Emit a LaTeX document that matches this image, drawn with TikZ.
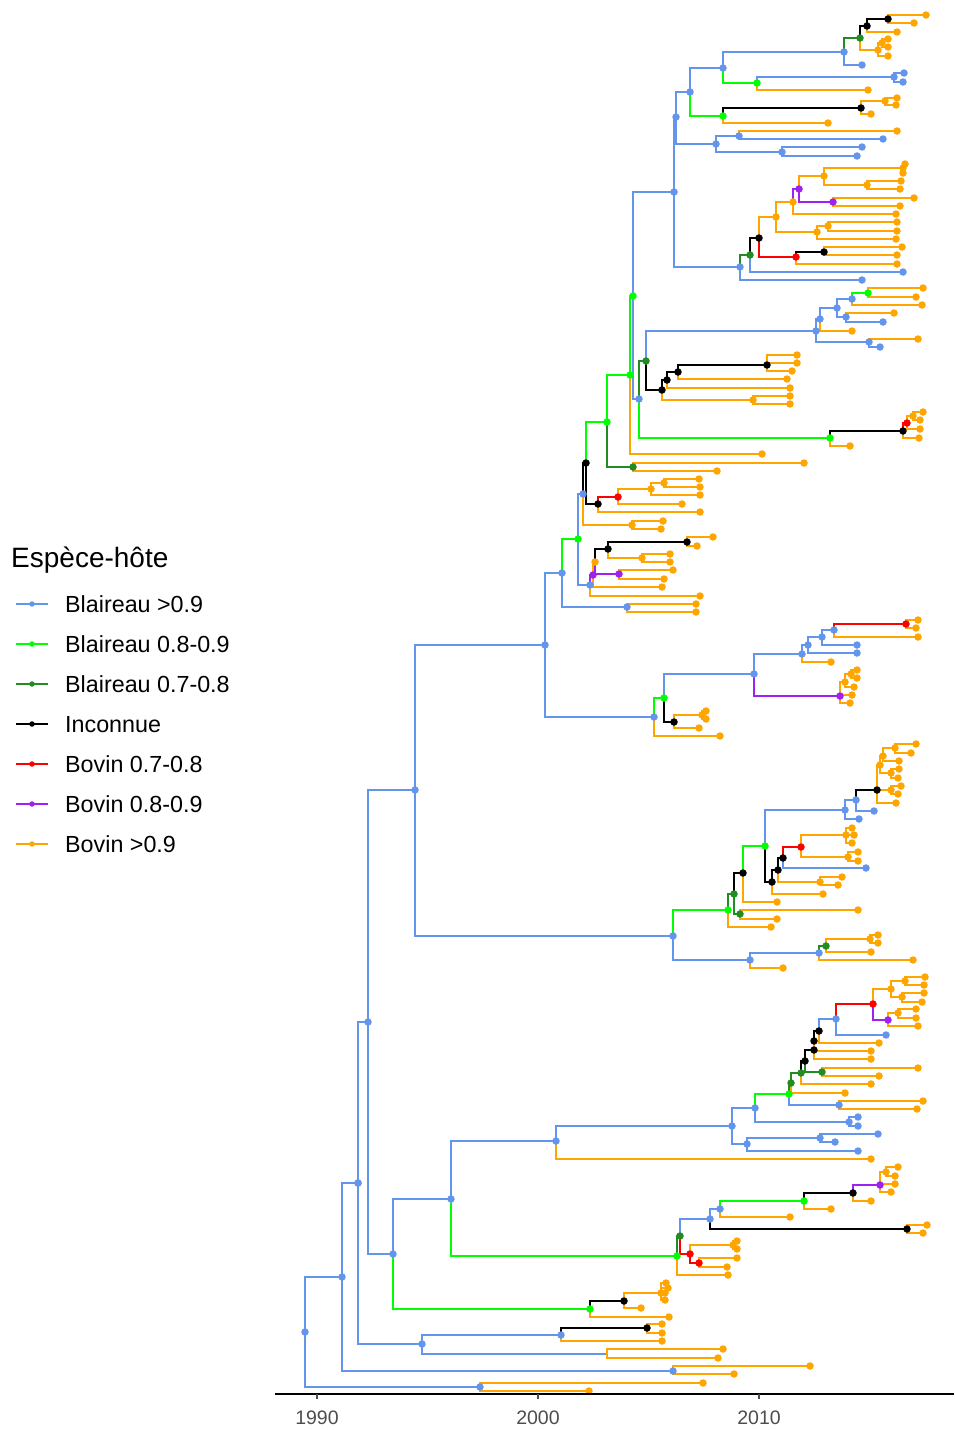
\documentclass[tikz,border=0pt]{standalone}
\usepackage{fontspec}
\setmainfont{Liberation Sans}
\usepackage{tikz}
\definecolor{bla9}{HTML}{6495ED}
\definecolor{bla8}{HTML}{00FF00}
\definecolor{bla7}{HTML}{228B22}
\definecolor{inconnue}{HTML}{000000}
\definecolor{bov7}{HTML}{FF0000}
\definecolor{bov8}{HTML}{A020F0}
\definecolor{bov9}{HTML}{FFA500}
\definecolor{axisgrey}{HTML}{4D4D4D}
\tikzset{
  NodeDot/.style={circle, fill=#1, inner sep=0pt, minimum size=7.5pt},
  BranchLine/.style={draw=#1, line width=2.8pt},
  KeyLine/.style={draw=#1, line width=2pt},
  KeyDot/.style={circle, fill=#1, inner sep=0pt, minimum size=5.5pt},
  KeyText/.style={anchor=base west, inner sep=0pt, font=\fontsize{23.3}{27}\selectfont},
  TickLabel/.style={anchor=base, inner sep=0pt, text=axisgrey, font=\fontsize{19.5}{22}\selectfont},
  TickLine/.style={draw=axisgrey, line width=1.1pt}
}
% branches are drawn at once, the dots are queued and put on top at the end
\newcommand{\DotQueue}{}
\newcounter{tipno}
\newcommand{\Branch}[5]{%
  \coordinate (#3) at (#4,#5);
  \draw[BranchLine=#1] (#2) |- (#3);
  \xdef\DotQueue{\unexpanded\expandafter{\DotQueue}\noexpand\node[NodeDot=#1] (#3d) at (#3) {};}}
\newcommand{\Leaf}[4]{%
  \stepcounter{tipno}%
  \edef\leafname{tip\arabic{tipno}}%
  \Branch{#1}{#2}{\leafname}{#3}{#4}}
\newcommand{\LegendKey}[4]{%
  \coordinate (#1a) at (16,#2);
  \coordinate (#1b) at (48,#2);
  \draw[KeyLine=#3] (#1a) -- (#1b);
  \node[KeyDot=#3] (#1d) at (32,#2) {};
  \node[KeyText] (#1t) at (65,#2+8.7) {#4};}

\begin{document}
\begin{tikzpicture}[x=1pt, y=-1pt]
	\useasboundingbox (0,0) rectangle (954,1430);
	\coordinate (R) at (305,1332);
	\Branch{bla9}{R}{N1}{342}{1277}
	\Branch{bla9}{R}{N1b}{480}{1387}
	\Leaf{bov9}{N1b}{703}{1383}
	\Leaf{bov9}{N1b}{589}{1391}
	\Branch{bla9}{N1}{N2}{358}{1183}
	\Branch{bla9}{N1}{N1c}{673}{1371}
	\Leaf{bov9}{N1c}{810}{1366}
	\Leaf{bov9}{N1c}{734}{1374}
	\Branch{bla9}{N2}{N3}{368}{1022}
	\Branch{bla9}{N2}{N2b}{422}{1344}
	\Branch{bla9}{N2b}{N2c}{561}{1335}
	\Branch{inconnue}{N2c}{K20}{647}{1328}
	\Leaf{bov9}{K20}{662}{1324}
	\Leaf{bov9}{K20}{662}{1333}
	\Leaf{bov9}{N2c}{662}{1341}
	\Branch{bla9}{N2b}{N2d}{607}{1354}
	\Leaf{bov9}{N2d}{723}{1349}
	\Leaf{bov9}{N2d}{718}{1358}
	\Branch{bla9}{N3}{N4}{415}{790}
	\Branch{bla9}{N3}{N3b}{393}{1254}
	\Branch{bla9}{N3b}{N5}{451}{1199}
	\Branch{bla8}{N3b}{G10}{590}{1309}
	\Branch{inconnue}{G10}{K21}{624}{1301}
	\Branch{bov9}{K21}{O20}{661}{1293}
	\Leaf{bov9}{O20}{666}{1283}
	\Leaf{bov9}{O20}{668}{1288}
	\Leaf{bov9}{O20}{665}{1293}
	\Leaf{bov9}{O20}{665}{1300}
	\Leaf{bov9}{K21}{641}{1308}
	\Leaf{bov9}{G10}{669}{1317}

	\Branch{bla9}{N5}{B10}{556}{1141}
	\Branch{bla8}{N5}{G11}{677}{1256}
	\Branch{bla9}{B10}{B11}{732}{1126}
	\Leaf{bov9}{B10}{871}{1159}
	\Branch{bla9}{B11}{B12}{755}{1108}
	\Branch{bla9}{B11}{B13}{747}{1144}
	\Branch{bla9}{B13}{B14}{820}{1138}
	\Leaf{bla9}{B14}{878}{1134}
	\Leaf{bla9}{B14}{835}{1142}
	\Leaf{bla9}{B13}{858}{1151}
	\Branch{bla8}{B12}{G12}{789}{1094}
	\Branch{bla9}{B12}{B15}{849}{1122}
	\Leaf{bla9}{B15}{858}{1117}
	\Leaf{bla9}{B15}{858}{1126}
	\Branch{bla7}{G12}{DG1}{791}{1083}
	\Branch{bla9}{G12}{B16}{839}{1105}
	\Leaf{bov9}{B16}{923}{1101}
	\Leaf{bov9}{B16}{917}{1109}
	\Branch{bla7}{DG1}{DG2}{801}{1073}
	\Leaf{bov9}{DG1}{845}{1093}
	\Branch{inconnue}{DG2}{K1}{805}{1061}
	\Leaf{bov9}{DG2}{871}{1084}
	\Branch{inconnue}{K1}{K2}{814}{1050}
	\Branch{bla7}{K1}{DG3}{822}{1072}
	\Leaf{bov9}{DG3}{918}{1068}
	\Leaf{bov9}{DG3}{879}{1076}
	\Branch{inconnue}{K2}{K3}{814}{1041}
	\Leaf{bov9}{K2}{871}{1059}
	\Branch{inconnue}{K3}{K4}{819}{1031}
	\Leaf{bov9}{K3}{871}{1051}
	\Branch{bla9}{K4}{B17}{836}{1019}
	\Leaf{bov9}{K4}{879}{1043}
	\Branch{bov7}{B17}{R20}{873}{1004}
	\Leaf{bla9}{B17}{886}{1035}
	\Branch{bov9}{R20}{O30}{891}{989}
	\Branch{bov8}{R20}{P30}{888}{1020}
	\Branch{bov9}{O30}{O31}{905}{981}
	\Leaf{bov9}{O31}{925}{977}
	\Leaf{bov9}{O31}{924}{985}
	\Branch{bov9}{O30}{O32}{902}{997}
	\Leaf{bov9}{O32}{924}{993}
	\Leaf{bov9}{O32}{922}{1002}
	\Branch{bov9}{P30}{O33}{898}{1013}
	\Leaf{bov9}{O33}{916}{1009}
	\Leaf{bov9}{O33}{916}{1018}
	\Leaf{bov9}{P30}{918}{1026}

	\Branch{bla7}{G11}{DG10}{680}{1236}
	\Leaf{bov9}{G11}{728}{1275}
	\Branch{bla9}{DG10}{B20}{710}{1219}
	\Branch{bov7}{DG10}{R10}{690}{1254}
	\Branch{bov9}{R10}{O40}{733}{1245}
	\Leaf{bov9}{O40}{737}{1241}
	\Leaf{bov9}{O40}{737}{1249}
	\Branch{bov7}{R10}{R11}{699}{1263}
	\Leaf{bov9}{R11}{737}{1258}
	\Leaf{bov9}{R11}{727}{1267}
	\Branch{bla9}{B20}{B21}{720}{1209}
	\Branch{inconnue}{B20}{K22}{907}{1229}
	\Leaf{bov9}{K22}{927}{1225}
	\Leaf{bov9}{K22}{923}{1233}
	\Branch{bla8}{B21}{G20}{804}{1201}
	\Leaf{bov9}{B21}{790}{1217}
	\Branch{inconnue}{G20}{K23}{853}{1193}
	\Leaf{bov9}{G20}{831}{1209}
	\Branch{bov8}{K23}{P20}{880}{1185}
	\Leaf{bov9}{K23}{871}{1201}
	\Branch{bov9}{P20}{O41}{886}{1172}
	\Leaf{bov9}{O41}{898}{1167}
	\Leaf{bov9}{O41}{895}{1176}
	\Leaf{bov9}{P20}{895}{1184}
	\Leaf{bov9}{P20}{891}{1192}

	\Branch{bla9}{N4}{B30}{545}{645}
	\Branch{bla9}{N4}{B40}{673}{936}
	\Branch{bla8}{B40}{G30}{728}{910}
	\Branch{bla9}{B40}{B41}{750}{960}
	\Branch{bla9}{B41}{B42}{819}{953}
	\Leaf{bov9}{B41}{783}{968}
	\Branch{bla7}{B42}{DG30}{826}{946}
	\Leaf{bov9}{B42}{913}{960}
	\Branch{bov9}{DG30}{O50}{870}{939}
	\Leaf{bov9}{O50}{878}{935}
	\Leaf{bov9}{O50}{878}{943}
	\Leaf{bov9}{DG30}{871}{952}
	\Branch{bla7}{G30}{DG31}{734}{894}
	\Leaf{bov9}{G30}{771}{927}
	\Branch{inconnue}{DG31}{K30}{743}{873}
	\Branch{bla7}{DG31}{DG32}{740}{914}
	\Leaf{bov9}{DG32}{858}{910}
	\Leaf{bov9}{DG32}{777}{919}
	\Branch{bla8}{K30}{G31}{765}{846}
	\Leaf{bov9}{K30}{777}{902}
	\Branch{bla9}{G31}{B43}{845}{810}
	\Branch{inconnue}{G31}{K31}{772}{882}
	\Branch{inconnue}{K31}{K32}{778}{870}
	\Leaf{bov9}{K31}{823}{894}
	\Branch{inconnue}{K32}{K33}{783}{858}
	\Branch{bov9}{K32}{O51}{820}{882}
	\Leaf{bov9}{O51}{842}{877}
	\Leaf{bov9}{O51}{838}{885}
	\Branch{bov7}{K33}{R30}{801}{847}
	\Leaf{bla9}{K33}{866}{868}
	\Branch{bov9}{R30}{O52}{846}{835}
	\Leaf{bov9}{O52}{852}{828}
	\Leaf{bov9}{O52}{854}{835}
	\Leaf{bov9}{O52}{852}{843}
	\Branch{bov9}{R30}{O53}{848}{857}
	\Leaf{bov9}{O53}{858}{852}
	\Leaf{bov9}{O53}{858}{861}
	\Branch{bla9}{B43}{B44}{856}{800}
	\Leaf{bla9}{B43}{859}{819}
	\Branch{inconnue}{B44}{K34}{877}{790}
	\Leaf{bla9}{B44}{874}{811}
	\Branch{bov9}{K34}{O80}{880}{765}
	\Branch{bov9}{O80}{O81}{883}{756}
	\Branch{bov9}{O81}{O83}{895}{748}
	\Leaf{bov9}{O83}{916}{744}
	\Leaf{bov9}{O83}{911}{753}
	\Leaf{bov9}{O81}{899}{761}
	\Branch{bov9}{O80}{O82}{891}{773}
	\Leaf{bov9}{O82}{899}{769}
	\Leaf{bov9}{O82}{898}{778}
	\Branch{bov9}{K34}{O84}{891}{790}
	\Leaf{bov9}{O84}{901}{786}
	\Leaf{bov9}{O84}{898}{794}
	\Leaf{bov9}{K34}{896}{803}

	\Branch{bla9}{B30}{B31}{562}{573}
	\Branch{bla9}{B30}{B32}{654}{717}
	\Branch{bla8}{B32}{G40}{664}{698}
	\Leaf{bov9}{B32}{720}{736}
	\Branch{bla9}{G40}{B33}{754}{674}
	\Branch{inconnue}{G40}{K40}{674}{722}
	\Branch{bov9}{K40}{O60}{702}{715}
	\Leaf{bov9}{O60}{706}{711}
	\Leaf{bov9}{O60}{706}{719}
	\Leaf{bov9}{K40}{699}{728}
	\Branch{bla9}{B33}{B34}{802}{654}
	\Branch{bov8}{B33}{P40}{840}{696}
	\Branch{bov9}{P40}{O61}{845}{682}
	\Branch{bov9}{O61}{O62}{851}{674}
	\Leaf{bov9}{O62}{857}{670}
	\Leaf{bov9}{O62}{857}{678}
	\Leaf{bov9}{O61}{854}{687}
	\Leaf{bov9}{P40}{852}{695}
	\Leaf{bov9}{P40}{850}{703}
	\Branch{bla9}{B34}{B35}{808}{645}
	\Leaf{bov9}{B34}{831}{662}
	\Branch{bla9}{B35}{B36}{822}{637}
	\Leaf{bla9}{B35}{857}{653}
	\Branch{bla9}{B36}{B37}{834}{630}
	\Leaf{bla9}{B36}{857}{645}
	\Branch{bov7}{B37}{R40}{906}{624}
	\Leaf{bov9}{B37}{918}{637}
	\Leaf{bov9}{R40}{918}{620}
	\Leaf{bov9}{R40}{916}{628}

	\Branch{bla8}{B31}{G41}{578}{539}
	\Branch{bla9}{B31}{B38}{627}{607}
	\Leaf{bov9}{B38}{696}{604}
	\Leaf{bov9}{B38}{696}{612}
	\Branch{bla9}{G41}{B5}{583}{494}
	\Branch{bla9}{G41}{B4}{590}{585}
	\Branch{bov8}{B4}{P41}{593}{575}
	\Leaf{bov9}{B4}{700}{596}
	\Branch{bov9}{P41}{O63}{595}{562}
	\Leaf{bov9}{P41}{662}{587}
	\Branch{inconnue}{O63}{K41}{608}{549}
	\Branch{bov8}{O63}{P42}{619}{574}
	\Leaf{bov9}{P42}{673}{570}
	\Leaf{bov9}{P42}{664}{579}
	\Branch{inconnue}{K41}{K42}{687}{542}
	\Branch{bov9}{K41}{O64}{642}{558}
	\Leaf{bov9}{K42}{713}{537}
	\Leaf{bov9}{K42}{697}{546}
	\Leaf{bov9}{O64}{670}{554}
	\Leaf{bov9}{O64}{670}{562}
	\Branch{inconnue}{B5}{K9}{586}{463}
	\Branch{bov9}{B5}{O65}{632}{525}
	\Leaf{bov9}{O65}{663}{521}
	\Leaf{bov9}{O65}{661}{529}
	\Branch{bla8}{K9}{G4}{607}{422}
	\Branch{inconnue}{K9}{K10}{598}{504}
	\Branch{bov7}{K10}{R41}{618}{497}
	\Leaf{bov9}{K10}{700}{512}
	\Branch{bov9}{R41}{O66}{651}{489}
	\Leaf{bov9}{R41}{682}{504}
	\Branch{bov9}{O66}{O67}{664}{483}
	\Leaf{bov9}{O66}{700}{495}
	\Leaf{bov9}{O67}{699}{479}
	\Leaf{bov9}{O67}{700}{487}

	\Branch{bla8}{G4}{G6}{630}{375}
	\Branch{bla7}{G4}{DG40}{633}{467}
	\Leaf{bov9}{DG40}{804}{463}
	\Leaf{bov9}{DG40}{717}{471}
	\Branch{bla8}{G6}{G7}{633}{296}
	\Leaf{bov9}{G6}{762}{454}
	\Branch{bla9}{G7}{B50}{674}{192}
	\Branch{bla9}{G7}{B6}{639}{399}
	\Branch{bla7}{B6}{DG41}{646}{361}
	\Branch{bla8}{B6}{G8}{830}{438}
	\Branch{inconnue}{G8}{K15}{903}{431}
	\Leaf{bov9}{G8}{850}{446}
	\Branch{bov7}{K15}{R42}{907}{423}
	\Leaf{bov9}{K15}{919}{438}
	\Branch{bov9}{R42}{O68}{913}{416}
	\Leaf{bov9}{R42}{920}{429}
	\Leaf{bov9}{O68}{923}{412}
	\Leaf{bov9}{O68}{920}{420}
	\Branch{bla9}{DG41}{B7}{816}{331}
	\Branch{inconnue}{DG41}{K11}{662}{390}
	\Branch{inconnue}{K11}{K12}{667}{380}
	\Branch{bov9}{K11}{O69}{753}{400}
	\Leaf{bov9}{O69}{790}{396}
	\Leaf{bov9}{O69}{790}{404}
	\Branch{inconnue}{K12}{K13}{678}{372}
	\Leaf{bov9}{K12}{790}{388}
	\Branch{inconnue}{K13}{K14}{767}{365}
	\Leaf{bov9}{K13}{787}{379}
	\Leaf{bov9}{K14}{797}{355}
	\Leaf{bov9}{K14}{797}{363}
	\Leaf{bov9}{K14}{792}{371}
	\Branch{bla9}{B7}{B51}{820}{319}
	\Branch{bla9}{B7}{B52}{869}{342}
	\Leaf{bov9}{B52}{918}{339}
	\Leaf{bla9}{B52}{880}{347}
	\Branch{bla9}{B51}{B53}{837}{308}
	\Leaf{bov9}{B51}{852}{331}
	\Branch{bla9}{B53}{B54}{852}{299}
	\Branch{bla9}{B53}{B55}{846}{317}
	\Branch{bla8}{B54}{G50}{868}{293}
	\Leaf{bov9}{B54}{922}{305}
	\Leaf{bov9}{G50}{923}{288}
	\Leaf{bov9}{G50}{916}{297}
	\Leaf{bov9}{B55}{894}{313}
	\Leaf{bla9}{B55}{883}{322}

	\Branch{bla9}{B50}{B56}{676}{117}
	\Branch{bla9}{B50}{B8}{740}{267}
	\Branch{bla7}{B8}{DG50}{750}{255}
	\Leaf{bla9}{B8}{862}{280}
	\Branch{inconnue}{DG50}{K16}{759}{238}
	\Leaf{bla9}{DG50}{903}{272}
	\Branch{bov9}{K16}{O70}{776}{217}
	\Branch{bov7}{K16}{R50}{796}{257}
	\Branch{inconnue}{R50}{K50}{824}{252}
	\Leaf{bov9}{R50}{897}{264}
	\Leaf{bov9}{K50}{902}{247}
	\Leaf{bov9}{K50}{897}{255}
	\Branch{bov9}{O70}{O71}{793}{202}
	\Branch{bov9}{O70}{O72}{817}{232}
	\Branch{bov9}{O72}{O73}{828}{226}
	\Leaf{bov9}{O72}{896}{239}
	\Leaf{bov9}{O73}{897}{222}
	\Leaf{bov9}{O73}{897}{231}
	\Branch{bov8}{O71}{P50}{799}{189}
	\Leaf{bov9}{O71}{896}{214}
	\Branch{bov9}{P50}{O74}{824}{176}
	\Branch{bov8}{P50}{P51}{833}{202}
	\Leaf{bov9}{P51}{914}{198}
	\Leaf{bov9}{P51}{900}{206}
	\Branch{bov9}{O74}{O75}{903}{168}
	\Branch{bov9}{O74}{O76}{867}{185}
	\Leaf{bov9}{O75}{905}{164}
	\Leaf{bov9}{O75}{903}{173}
	\Leaf{bov9}{O76}{901}{181}
	\Leaf{bov9}{O76}{900}{189}

	\Branch{bla9}{B56}{B57}{690}{92}
	\Branch{bla9}{B56}{B58}{716}{144}
	\Branch{bla9}{B58}{B59}{739}{136}
	\Branch{bla9}{B58}{B60}{782}{152}
	\Leaf{bov9}{B59}{897}{131}
	\Leaf{bla9}{B59}{883}{139}
	\Leaf{bla9}{B60}{862}{147}
	\Leaf{bla9}{B60}{857}{156}
	\Branch{bla9}{B57}{B61}{723}{68}
	\Branch{bla8}{B57}{G51}{723}{116}
	\Branch{inconnue}{G51}{K51}{861}{108}
	\Leaf{bov9}{G51}{828}{123}
	\Branch{bov9}{K51}{O77}{885}{101}
	\Leaf{bov9}{K51}{871}{114}
	\Leaf{bov9}{O77}{897}{98}
	\Leaf{bov9}{O77}{896}{105}
	\Branch{bla9}{B61}{B62}{844}{52}
	\Branch{bla8}{B61}{G52}{757}{83}
	\Branch{bla9}{G52}{B63}{894}{77}
	\Leaf{bov9}{G52}{868}{90}
	\Leaf{bla9}{B63}{904}{73}
	\Leaf{bla9}{B63}{903}{82}
	\Branch{bla7}{B62}{DG51}{860}{38}
	\Leaf{bla9}{B62}{862}{65}
	\Branch{inconnue}{DG51}{K52}{867}{26}
	\Branch{bov9}{DG51}{O78}{878}{50}
	\Branch{inconnue}{K52}{K53}{888}{19}
	\Leaf{bov9}{K52}{897}{32}
	\Leaf{bov9}{K53}{926}{15}
	\Leaf{bov9}{K53}{914}{23}
	\Branch{bov9}{O78}{O79}{882}{43}
	\Leaf{bov9}{O78}{888}{56}
	\Leaf{bov9}{O79}{888}{39}
	\Leaf{bov9}{O79}{888}{47}

	\node[NodeDot=bla9] (Rd) at (R) {};
	\DotQueue

	\coordinate (xa) at (275,1394);
	\coordinate (xb) at (954,1394);
	\draw[line width=1.1pt] (xa) -- (xb);
	\coordinate (t1990) at (317,1394);
	\coordinate (t2000) at (538,1394);
	\coordinate (t2010) at (759,1394);
	\draw[TickLine] (t1990) -- ++(0,5);
	\draw[TickLine] (t2000) -- ++(0,5);
	\draw[TickLine] (t2010) -- ++(0,5);
	\node[TickLabel] (l1990) at (317,1424) {1990};
	\node[TickLabel] (l2000) at (538,1424) {2000};
	\node[TickLabel] (l2010) at (759,1424) {2010};

	\node[anchor=base west, inner sep=0pt, font=\fontsize{28}{33}\selectfont] (title) at (11,567) {Espèce-hôte};
	\LegendKey{k1}{604}{bla9}{Blaireau >0.9}
	\LegendKey{k2}{644}{bla8}{Blaireau 0.8-0.9}
	\LegendKey{k3}{684}{bla7}{Blaireau 0.7-0.8}
	\LegendKey{k4}{724}{inconnue}{Inconnue}
	\LegendKey{k5}{764}{bov7}{Bovin 0.7-0.8}
	\LegendKey{k6}{804}{bov8}{Bovin 0.8-0.9}
	\LegendKey{k7}{844}{bov9}{Bovin >0.9}
\end{tikzpicture}
\end{document}
